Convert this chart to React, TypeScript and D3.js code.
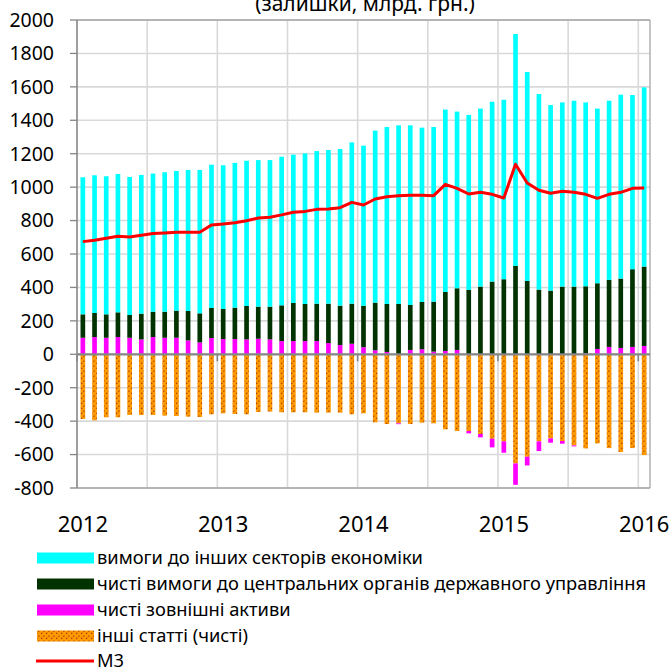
import React from 'react';
import * as d3 from 'd3';

// Monthly categories: Jan 2012 .. Jan 2016
const months: Date[] = d3.timeMonths(new Date(2012, 0, 1), new Date(2016, 1, 1));

// Claims on other sectors of economy (cyan)
const claimsOther = [
  820, 824, 826, 828, 826, 830, 826, 834, 836, 844, 858, 857,
  860, 866, 869, 877, 877, 889, 887, 901, 913, 919, 937, 965,
  958, 1029, 1059, 1069, 1075, 1043, 1045, 1091, 1057, 1047, 1065, 1076,
  1074, 1387, 1250, 1170, 1110, 1102, 1112, 1100, 1045, 1072, 1100, 1042,
  1072,
];
// Net claims on central government (dark green)
const claimsGov = [
  140, 144, 140, 148, 136, 154, 152, 156, 162, 176, 174, 180,
  180, 188, 200, 192, 196, 214, 228, 222, 224, 236, 236, 240,
  248, 285, 287, 301, 269, 283, 299, 353, 369, 385, 405, 435,
  449, 529, 439, 387, 381, 405, 405, 402, 393, 401, 415, 465,
  475,
];
// Net foreign assets (magenta)
const netForeign = [
  99, 103, 99, 103, 99, 89, 103, 99, 99, 83, 71, 97,
  91, 91, 89, 93, 89, 79, 79, 79, 79, 67, 55, 63,
  42, 24, 14, -5, 26, 30, 16, 20, 26, -14, -20, -52,
  -68, -128, -52, -58, -26, -16, -6, 5, 32, 44, 38, 44,
  50,
];
// Other items (net) (orange hatched)
const otherItems = [
  -387, -395, -377, -377, -363, -363, -363, -367, -369, -373, -375, -359,
  -353, -357, -359, -345, -343, -347, -347, -347, -349, -349, -349, -359,
  -353, -407, -417, -413, -417, -409, -413, -449, -459, -459, -477, -505,
  -521, -653, -613, -521, -503, -519, -545, -563, -533, -561, -585, -561,
  -603,
];
// M3 (red line)
const m3 = [
  674, 682, 694, 706, 702, 712, 722, 726, 730, 730, 730, 774,
  780, 787, 799, 815, 820, 834, 850, 855, 867, 869, 877, 909,
  893, 929, 943, 949, 951, 951, 949, 1017, 993, 959, 969, 957,
  935, 1137, 1025, 981, 963, 975, 969, 957, 933, 957, 969, 993,
  995,
];

const yTicks = [-800, -600, -400, -200, 0, 200, 400, 600, 800, 1000, 1200, 1400, 1600, 1800, 2000];
const yearTicks = [2012, 2013, 2014, 2015, 2016];

const title = '(залишки, млрд. грн.)';
const legendNames = [
  'вимоги до інших секторів економіки',
  'чисті вимоги до центральних органів державного управління',
  'чисті зовнішні активи',
  'інші статті (чисті)',
  'М3',
];

const COLORS = {
  claims: '#00ffff',
  gov: '#003300',
  foreign: '#ff00ff',
  other: 'url(#hatch)',
  m3: '#ff0000',
};

const FONT = '"Noto Sans", "DejaVu Sans", sans-serif';

export default function App() {
  const W = 672, H = 672;
  const left = 77, right = 650, top = 20, bottom = 488;

  const idx = months.map((_, i) => i);
  const x = d3.scaleBand<number>().domain(idx).range([left, right]).paddingInner(0.6).paddingOuter(0.3);
  const step = x.step();
  const y = d3.scaleLinear().domain([-800, 2000]).range([bottom, top]);

  const rows = months.map((d, i) => ({
    i,
    other: otherItems[i],
    foreign: netForeign[i],
    gov: claimsGov[i],
    claims: claimsOther[i],
  }));
  const keys = ['other', 'foreign', 'gov', 'claims'] as const;
  const stacked = d3.stack<any>().keys(keys as any).offset(d3.stackOffsetDiverging)(rows);

  const line = d3.line<number>()
    .x((_, i) => (x(i) as number) + x.bandwidth() / 2)
    .y((v) => y(v));

  const boundary = (i: number) => left + i * step;
  const vGrid = d3.range(6, months.length, 6);
  const xTickIdx = d3.range(0, months.length + 1, 12);

  const legendY = [558, 584, 610, 636, 661];
  const legendFills = [COLORS.claims, COLORS.gov, COLORS.foreign, COLORS.other];

  return (
    <svg width={W} height={H} style={{ position: 'absolute', left: 0, top: 0, background: '#fff' }} fontFamily={FONT}>
      <defs>
        <pattern id="hatch" patternUnits="userSpaceOnUse" width={5} height={5}>
          <rect width={5} height={5} fill="#ff9900" />
          <path d="M-1,6 L6,-1" stroke="#a4400c" strokeWidth={1.1} strokeDasharray="1.5 1.6" />
        </pattern>
      </defs>
      <rect width={W} height={H} fill="#fff" />

      {/* title (clipped at the top, as in the source) */}
      <text x={365} y={11} textAnchor="middle" fontSize={21} fill="#000">{title}</text>

      {/* horizontal grid */}
      {yTicks.map((t) => (
        <line key={'hg' + t} x1={left} x2={right} y1={y(t)} y2={y(t)} stroke="#d9d9d9" strokeWidth={1.6} />
      ))}
      {/* vertical grid */}
      {vGrid.map((i) => (
        <line key={'vg' + i} x1={boundary(i)} x2={boundary(i)} y1={top} y2={bottom} stroke="#d9d9d9" strokeWidth={1.6} />
      ))}
      {/* frame */}
      <line x1={left} x2={right} y1={top} y2={top} stroke="#a6a6a6" strokeWidth={1.3} />
      <line x1={right} x2={right} y1={top} y2={bottom} stroke="#a6a6a6" strokeWidth={1.3} />
      <line x1={left} x2={right} y1={bottom} y2={bottom} stroke="#a6a6a6" strokeWidth={1.3} />

      {/* bars */}
      {stacked.map((s) => (
        <g key={s.key} fill={(COLORS as any)[s.key]}>
          {s.map((d: any, i: number) => {
            const y0 = y(d[0]);
            const y1 = y(d[1]);
            const h = Math.abs(y0 - y1);
            if (h < 0.01) return null;
            return <rect key={i} x={x(i)} y={Math.min(y0, y1)} width={x.bandwidth()} height={h} />;
          })}
        </g>
      ))}

      {/* y axis */}
      <line x1={left} x2={left} y1={top} y2={bottom} stroke="#868686" strokeWidth={1.6} />
      {yTicks.map((t) => (
        <g key={'yt' + t}>
          <line x1={left - 7} x2={left} y1={y(t)} y2={y(t)} stroke="#868686" strokeWidth={1.3} />
          <text x={54} y={y(t)} dy="0.35em" textAnchor="end" fontSize={19.5} fill="#000">{t}</text>
        </g>
      ))}

      {/* zero axis */}
      <line x1={left} x2={right} y1={y(0)} y2={y(0)} stroke="#868686" strokeWidth={2.2} />
      {xTickIdx.map((i) => (
        <line key={'xt' + i} x1={boundary(i)} x2={boundary(i)} y1={y(0)} y2={y(0) + 7} stroke="#868686" strokeWidth={1.6} />
      ))}

      {/* M3 line */}
      <path d={line(m3) as string} fill="none" stroke={COLORS.m3} strokeWidth={3} strokeLinejoin="round" />

      {/* year labels */}
      {yearTicks.map((yr, k) => {
        const i = k * 12;
        return (
          <text key={'yr' + yr} x={(x(i) as number) + x.bandwidth() / 2} y={532} textAnchor="middle" fontSize={22} fill="#000">{yr}</text>
        );
      })}

      {/* legend */}
      {legendNames.map((name, k) => (
        <g key={'lg' + k}>
          {k < 4 ? (
            <rect x={37} y={legendY[k] - 5.5} width={57} height={11} fill={legendFills[k]} />
          ) : (
            <line x1={36} x2={94} y1={legendY[k]} y2={legendY[k]} stroke={COLORS.m3} strokeWidth={3} />
          )}
          <text x={97} y={legendY[k]} dy="0.35em" fontSize={18.3} fill="#000">{name}</text>
        </g>
      ))}
    </svg>
  );
}
